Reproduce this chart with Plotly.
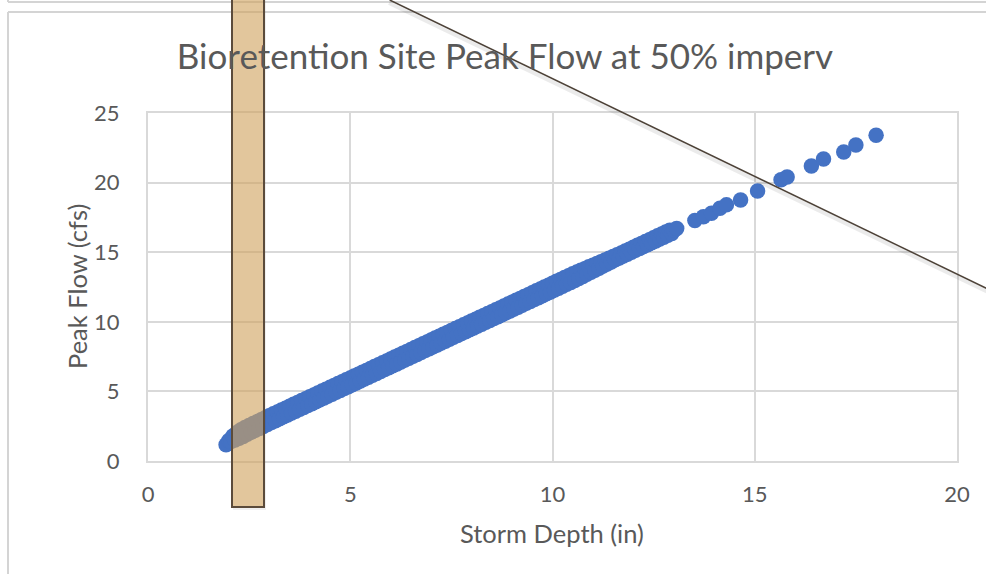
import plotly.graph_objects as go

# ---------------- data ----------------
storm_depth_in = [
    1.93, 2.00, 2.05, 2.10, 2.15, 2.20, 2.25, 2.30, 2.35, 2.40, 2.45,
    2.50, 2.55, 2.60, 2.65, 2.70, 2.75, 2.80, 2.85, 2.90, 2.95,
    3.00, 3.05, 3.10, 3.15, 3.20, 3.25, 3.30, 3.35, 3.40, 3.45,
    3.50, 3.55, 3.60, 3.65, 3.70, 3.75, 3.80, 3.85, 3.90, 3.95,
    4.00, 4.05, 4.10, 4.15, 4.20, 4.25, 4.30, 4.35, 4.40, 4.45,
    4.50, 4.55, 4.60, 4.65, 4.70, 4.75, 4.80, 4.85, 4.90, 4.95,
    5.00, 5.05, 5.10, 5.15, 5.20, 5.25, 5.30, 5.35, 5.40, 5.45,
    5.50, 5.55, 5.60, 5.65, 5.70, 5.75, 5.80, 5.85, 5.90, 5.95,
    6.00, 6.05, 6.10, 6.15, 6.20, 6.25, 6.30, 6.35, 6.40, 6.45,
    6.50, 6.55, 6.60, 6.65, 6.70, 6.75, 6.80, 6.85, 6.90, 6.95,
    7.00, 7.05, 7.10, 7.15, 7.20, 7.25, 7.30, 7.35, 7.40, 7.45,
    7.50, 7.55, 7.60, 7.65, 7.70, 7.75, 7.80, 7.85, 7.90, 7.95,
    8.00, 8.05, 8.10, 8.15, 8.20, 8.25, 8.30, 8.35, 8.40, 8.45,
    8.50, 8.55, 8.60, 8.65, 8.70, 8.75, 8.80, 8.85, 8.90, 8.95,
    9.00, 9.05, 9.10, 9.15, 9.20, 9.25, 9.30, 9.35, 9.40, 9.45,
    9.50, 9.55, 9.60, 9.65, 9.70, 9.75, 9.80, 9.85, 9.90, 9.95,
    10.00, 10.05, 10.10, 10.15, 10.20, 10.25, 10.30, 10.35, 10.40, 10.45,
    10.50, 10.55, 10.60, 10.65, 10.70, 10.75, 10.80, 10.85, 10.90, 10.95,
    11.00, 11.05, 11.10, 11.15, 11.20, 11.25, 11.30, 11.35, 11.40, 11.45,
    11.50, 11.55, 11.60, 11.65, 11.70, 11.75, 11.80, 11.85, 11.90, 11.95,
    12.00, 12.05, 12.10, 12.15, 12.20, 12.25, 12.30, 12.35, 12.40, 12.45,
    12.50, 12.55, 12.60, 12.65, 12.70, 12.75, 12.80, 12.85, 12.90, 12.95,
    13.00, 13.07,
    13.52, 13.73, 13.93, 14.14, 14.30, 14.65, 15.07, 15.65, 15.80,
    16.40, 16.70, 17.20, 17.50, 18.00,
]
peak_flow_cfs = [
    1.17, 1.48, 1.40, 1.80, 1.50, 2.05, 1.63, 2.24, 1.76, 2.40, 1.92,
    2.55, 2.06, 2.69, 2.20, 2.83, 2.34, 2.97, 2.48, 3.11, 2.62,
    3.25, 2.76, 3.39, 2.89, 3.52, 3.03, 3.66, 3.17, 3.79, 3.30,
    3.93, 3.44, 4.07, 3.57, 4.20, 3.71, 4.34, 3.85, 4.47, 3.98,
    4.61, 4.12, 4.75, 4.25, 4.88, 4.39, 5.02, 4.53, 5.15, 4.66,
    5.29, 4.80, 5.43, 4.93, 5.56, 5.07, 5.70, 5.21, 5.83, 5.34,
    5.97, 5.48, 6.11, 5.61, 6.24, 5.75, 6.38, 5.89, 6.51, 6.02,
    6.65, 6.16, 6.79, 6.29, 6.92, 6.43, 7.06, 6.57, 7.19, 6.70,
    7.33, 6.84, 7.47, 6.97, 7.60, 7.11, 7.74, 7.25, 7.87, 7.38,
    8.01, 7.52, 8.15, 7.65, 8.28, 7.79, 8.42, 7.93, 8.55, 8.06,
    8.69, 8.20, 8.83, 8.33, 8.96, 8.47, 9.10, 8.61, 9.23, 8.74,
    9.37, 8.88, 9.51, 9.01, 9.64, 9.15, 9.78, 9.29, 9.91, 9.42,
    10.05, 9.56, 10.19, 9.69, 10.32, 9.83, 10.46, 9.97, 10.59, 10.10,
    10.73, 10.24, 10.87, 10.37, 11.00, 10.51, 11.14, 10.65, 11.27, 10.78,
    11.41, 10.92, 11.55, 11.05, 11.68, 11.19, 11.82, 11.33, 11.95, 11.46,
    12.09, 11.60, 12.23, 11.73, 12.36, 11.87, 12.50, 12.01, 12.63, 12.14,
    12.77, 12.28, 12.91, 12.41, 13.04, 12.55, 13.18, 12.69, 13.31, 12.82,
    13.45, 12.96, 13.57, 13.11, 13.70, 13.26, 13.82, 13.41, 13.95, 13.56,
    14.07, 13.70, 14.19, 13.85, 14.32, 14.00, 14.44, 14.15, 14.57, 14.30,
    14.69, 14.45, 14.82, 14.58, 14.95, 14.72, 15.09, 14.86, 15.22, 14.99,
    15.36, 15.13, 15.50, 15.26, 15.63, 15.40, 15.77, 15.54, 15.90, 15.67,
    16.04, 15.81, 16.18, 15.94, 16.31, 16.08, 16.45, 16.22, 16.58, 16.35,
    16.57, 16.70,
    17.27, 17.55, 17.80, 18.15, 18.40, 18.75, 19.40, 20.20, 20.40,
    21.20, 21.70, 22.20, 22.70, 23.40,
]
x_ticks = [0, 5, 10, 15, 20]
y_ticks = [0, 5, 10, 15, 20, 25]

title_text = "Bioretention Site Peak Flow at 50% imperv"
x_title = "Storm Depth (in)"
y_title = "Peak Flow (cfs)"

# ---------------- layout geometry (pixels) ----------------
W, H = 986, 574
L, R, T, B = 148, 29, 113, 113
PW, PH = W - L - R, H - T - B


def px(xp):
    return (xp - L) / PW


def py(yp):
    return (H - B - yp) / PH


FONT = "Lato"
TXT = "#595959"
GRID = "#D9D9D9"

fig = go.Figure()
fig.add_trace(go.Scatter(
    x=storm_depth_in, y=peak_flow_cfs, mode="markers",
    marker=dict(size=15.5, color="#4472C4", line=dict(width=0)),
    showlegend=False, hoverinfo="x+y",
))

shapes = []
frame = dict(color="#D4D4D4", width=2)
# outer frame lines (screenshot borders)
shapes.append(dict(type="line", xref="paper", yref="paper", x0=px(8), x1=px(990), y0=py(2), y1=py(2), line=frame))
shapes.append(dict(type="line", xref="paper", yref="paper", x0=px(8), x1=px(8), y0=py(-2), y1=py(2), line=frame))
shapes.append(dict(type="line", xref="paper", yref="paper", x0=px(8), x1=px(990), y0=py(12), y1=py(12), line=frame))
shapes.append(dict(type="line", xref="paper", yref="paper", x0=px(8), x1=px(8), y0=py(12), y1=py(580), line=frame))

# diagonal line shadow and line
shapes.append(dict(type="line", xref="paper", yref="paper", layer="above",
                   x0=px(389), y0=py(3), x1=px(990), y1=py(293),
                   line=dict(color="rgba(0,0,0,0.08)", width=4)))
shapes.append(dict(type="line", xref="paper", yref="paper", layer="above",
                   x0=px(389.7), y0=py(0), x1=px(990), y1=py(290),
                   line=dict(color="#4D4238", width=1.5)))

# tan rectangle shadow and rectangle
shapes.append(dict(type="rect", xref="paper", yref="paper", layer="above",
                   x0=px(233), x1=px(266), y0=py(-5), y1=py(510),
                   fillcolor="rgba(0,0,0,0.06)", line=dict(width=0)))
shapes.append(dict(type="rect", xref="paper", yref="paper", layer="above",
                   x0=px(232), x1=px(264), y0=py(-5), y1=py(507),
                   fillcolor="rgba(216,169,97,0.59)",
                   line=dict(color="#5B4B3B", width=2)))

annotations = [
    dict(text=x_title, xref="paper", yref="paper", x=px(552), y=py(533),
         xanchor="center", yanchor="middle", showarrow=False,
         font=dict(family=FONT, size=25.5, color=TXT)),
    dict(text=y_title, xref="paper", yref="paper", x=px(77), y=py(287),
         xanchor="center", yanchor="middle", showarrow=False, textangle=-90,
         font=dict(family=FONT, size=25.5, color=TXT)),
]

fig.update_layout(
    width=W, height=H,
    margin=dict(l=L, r=R, t=T, b=B),
    paper_bgcolor="white", plot_bgcolor="white",
    font=dict(family=FONT, color=TXT),
    title=dict(text=title_text, xref="container", yref="container",
               x=505 / W, y=1 - 57 / H, xanchor="center", yanchor="middle",
               font=dict(family=FONT, size=35, color=TXT)),
    xaxis=dict(range=[0, 20], tickvals=x_ticks, showgrid=True, gridcolor=GRID, gridwidth=2,
               zeroline=False, showline=True, linecolor=GRID, linewidth=2, mirror=True,
               ticks="outside", ticklen=0, tickcolor="white",
               ticklabelstandoff=13, tickfont=dict(family=FONT, size=22, color=TXT)),
    yaxis=dict(range=[0, 25], tickvals=y_ticks, showgrid=True, gridcolor=GRID, gridwidth=2,
               zeroline=False, showline=True, linecolor=GRID, linewidth=2, mirror=True,
               ticks="outside", ticklen=0, tickcolor="white",
               ticklabelstandoff=22, tickfont=dict(family=FONT, size=22, color=TXT)),
    shapes=shapes,
    annotations=annotations,
)

fig.write_html("out.html")
